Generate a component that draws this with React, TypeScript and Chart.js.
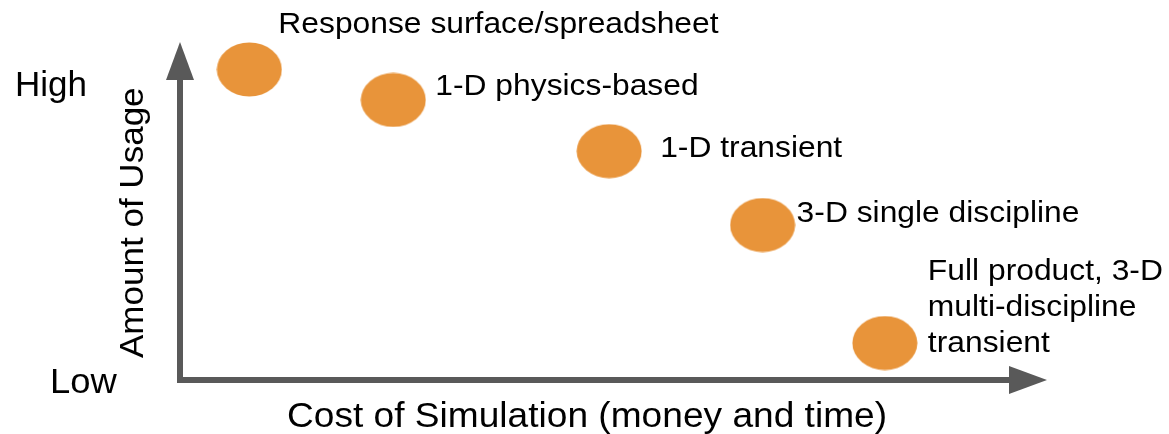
import React, { useEffect, useRef } from "react";
import { Chart, registerables } from "chart.js";

Chart.register(...registerables);

// Simulation fidelity levels, cost (x) vs. amount of usage (y), arbitrary 0–10 units
const categories: string[][] = [
  ["Response surface/spreadsheet"],
  ["1-D physics-based"],
  ["1-D transient"],
  ["3-D single discipline"],
  ["Full product, 3-D", "multi-discipline", "transient"],
];
const costValues = [0.8, 2.46, 4.95, 6.72, 8.13];
const usageValues = [9.19, 8.29, 6.78, 4.6, 1.12];
const yTickLabels = ["Low", "High"];
const xTitle = "Cost of Simulation (money and time)";
const yTitle = "Amount of Usage";

// Label placement relative to each marker centre (px)
const labelOffsets: [number, number][] = [
  [29, -36],
  [42, -5],
  [51, 6],
  [34, -3],
  [43, -63],
];

const W = 1169;
const H = 434;
const AXIS = "#595959";
const DOT = "#E8943A";
const FONT = '"Liberation Sans", Arial, sans-serif';
const STRETCH = 1.06;

function makeEllipse(w: number, h: number, color: string): HTMLCanvasElement {
  const c = document.createElement("canvas");
  c.width = w;
  c.height = h;
  const g = c.getContext("2d")!;
  g.fillStyle = color;
  g.beginPath();
  g.ellipse(w / 2, h / 2, w / 2 - 0.5, h / 2 - 0.5, 0, 0, Math.PI * 2);
  g.fill();
  return c;
}

function wideText(ctx: CanvasRenderingContext2D, text: string, x: number, y: number, sx: number) {
  ctx.save();
  ctx.translate(x, y);
  ctx.scale(sx, 1);
  ctx.fillText(text, 0, 0);
  ctx.restore();
}

const arrowAxes = {
  id: "arrowAxes",
  beforeDatasetsDraw(chart: any) {
    const { ctx, chartArea } = chart;
    const { left, right, top, bottom } = chartArea;
    const lw = 6;
    const head = 38;
    const half = 14;
    ctx.save();
    ctx.fillStyle = AXIS;
    // vertical shaft
    ctx.fillRect(left - lw / 2, top + head - 1, lw, bottom - top - head + 2);
    // horizontal shaft
    ctx.fillRect(left - lw / 2, bottom - lw / 2 - 1, right - left - head + lw / 2 + 1, lw);
    // up arrowhead
    ctx.beginPath();
    ctx.moveTo(left, top);
    ctx.lineTo(left - half, top + head);
    ctx.lineTo(left + half, top + head);
    ctx.closePath();
    ctx.fill();
    // right arrowhead
    const ay = bottom - 1;
    ctx.beginPath();
    ctx.moveTo(right, ay);
    ctx.lineTo(right - head, ay - half);
    ctx.lineTo(right - head, ay + half);
    ctx.closePath();
    ctx.fill();
    ctx.restore();
  },
};

const textLayer = {
  id: "textLayer",
  afterDatasetsDraw(chart: any) {
    const { ctx } = chart;
    const xs = chart.scales.x;
    const ys = chart.scales.y;
    ctx.save();
    ctx.fillStyle = "#000";
    ctx.textBaseline = "alphabetic";
    ctx.textAlign = "left";
    ctx.font = `30px ${FONT}`;
    categories.forEach((lines, i) => {
      const px = xs.getPixelForValue(costValues[i]);
      const py = ys.getPixelForValue(usageValues[i]);
      const [dx, dy] = labelOffsets[i];
      lines.forEach((line, j) => {
        wideText(ctx, line, px + dx, py + dy + j * 36, STRETCH);
      });
    });

    ctx.font = `35px ${FONT}`;
    wideText(ctx, yTickLabels[1], 15, 96, 1.0);
    wideText(ctx, yTickLabels[0], 50, 393, 1.04);
    wideText(ctx, xTitle, 287, 427, STRETCH);

    ctx.translate(143, 358);
    ctx.rotate(-Math.PI / 2);
    ctx.font = `34px ${FONT}`;
    wideText(ctx, yTitle, 0, 0, 1.03);
    ctx.restore();
  },
};

export default function App() {
  const ref = useRef<HTMLCanvasElement>(null);

  useEffect(() => {
    if (!ref.current) return;
    const marker = makeEllipse(66, 55, DOT);
    const chart = new Chart(ref.current, {
      type: "scatter",
      data: {
        datasets: [
          {
            data: costValues.map((x, i) => ({ x, y: usageValues[i] })),
            pointStyle: marker as any,
            pointRadius: 33,
            backgroundColor: DOT,
          },
        ],
      },
      options: {
        responsive: false,
        animation: false,
        layout: { padding: { left: 180, right: 122, top: 42, bottom: 53 } },
        scales: {
          x: { type: "linear", min: 0, max: 10, display: false },
          y: { type: "linear", min: 0, max: 10, display: false },
        },
        plugins: {
          legend: { display: false },
          tooltip: { enabled: false },
        },
      },
      plugins: [arrowAxes, textLayer],
    });
    return () => chart.destroy();
  }, []);

  return (
    <div style={{ position: "fixed", left: 0, top: 0, width: W, height: H, background: "#fff" }}>
      <canvas ref={ref} width={W} height={H} />
    </div>
  );
}
